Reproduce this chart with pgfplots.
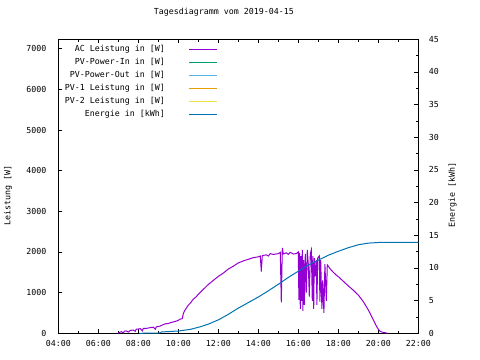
\documentclass[border=0pt]{standalone}
\usepackage{fontspec}
\setmonofont{DejaVu Sans Mono}
\usepackage{pgfplots}
\pgfplotsset{compat=1.18}
\definecolor{cPurple}{HTML}{9400D3}
\definecolor{cGreen}{HTML}{009E73}
\definecolor{cLBlue}{HTML}{56B4E9}
\definecolor{cOrange}{HTML}{E69F00}
\definecolor{cYellow}{HTML}{F0E442}
\definecolor{cBlue}{HTML}{0072B2}
\newcommand\gf{\ttfamily\fontsize{8.3bp}{10bp}\selectfont}
\pgfplotsset{
  gstyle/.style={
    at={(58.3bp,26.7bp)}, anchor=south west,
    scale only axis, width=360bp, height=294bp,
    xmin=4, xmax=22,
    tick align=inside,
    major tick length=4bp, minor tick length=2.5bp,
    tick style={black, line width=0.8bp},
    axis line style={line width=0.8bp},
    tick label style={font=\gf},
    label style={font=\gf},
    /pgf/number format/assume math mode=true,
    /pgf/number format/1000 sep={},
    scaled ticks=false,
  },
  legend image code/.code={\path (0bp,0bp) (52bp,0bp); \draw[#1] (24bp,0bp) -- (52bp,0bp);},
}
\begin{document}
\begin{tikzpicture}
\begin{axis}[gstyle,
  ymin=0, ymax=7230,
  ytick={0,1000,...,7000}, minor y tick num=0,
  ytick pos=left,
  xtick={4,6,...,22}, minor x tick num=1,
  xticklabels={04:00,06:00,08:00,10:00,12:00,14:00,16:00,18:00,20:00,22:00},
  xticklabel style={yshift=-4bp},
  yticklabel style={xshift=-8.5bp},
  ylabel={Leistung [W]},
  ylabel style={at={(axis description cs:-0.1397,0.47)}, anchor=center},
  title={Tagesdiagramm vom 2019-04-15},
  title style={at={(axis description cs:0.46,1.0725)}, anchor=center, font=\gf},
]
\addplot[cPurple, line width=1bp] table {
7.00 0
7.05 20
7.15 40
7.25 10
7.30 50
7.40 60
7.50 30
7.60 70
7.75 80
7.85 50
7.90 100
8.00 105
8.10 115
8.20 60
8.25 120
8.40 120
8.50 130
8.60 140
8.75 150
8.85 100
8.90 160
9.00 165
9.10 180
9.25 215
9.40 240
9.50 240
9.60 260
9.75 280
9.90 300
10.00 320
10.10 350
10.20 360
10.25 480
10.30 540
10.40 620
10.50 690
10.60 740
10.75 840
10.90 900
11.00 960
11.25 1080
11.50 1200
11.75 1300
12.00 1400
12.25 1480
12.50 1580
12.75 1650
13.00 1730
13.25 1780
13.50 1820
13.75 1860
14.00 1880
14.10 1900
14.15 1520
14.20 1910
14.40 1930
14.50 1900
14.60 1960
14.75 1940
14.90 1950
15.00 1960
15.10 1990
15.15 760
15.20 2100
15.25 1950
15.40 1980
15.50 1940
15.60 1990
15.75 1950
15.90 1960
16.00 2000
16.03 820
16.07 1980
16.10 600
16.13 1900
16.17 800
16.20 2050
16.23 550
16.27 1800
16.30 700
16.35 1950
16.40 1000
16.45 2050
16.50 1700
16.55 900
16.60 1950
16.65 2050
16.70 800
16.73 1900
16.77 600
16.80 1850
16.85 1400
16.90 1800
16.93 700
16.97 1850
17.05 1900
17.08 780
17.12 1800
17.18 600
17.22 1300
17.28 500
17.33 1700
17.40 800
17.45 1680
17.50 1650
17.60 1580
17.75 1500
17.90 1430
18.00 1395
18.25 1280
18.50 1165
18.75 1060
19.00 940
19.25 780
19.50 575
19.75 330
19.90 180
20.00 100
20.10 45
20.25 20
20.40 10
20.45 0
};
\end{axis}
\begin{axis}[gstyle,
  ymin=0, ymax=45,
  axis x line=none,
  axis y line*=right,
  ytick={0,5,...,45}, minor y tick num=1,
  yticklabel style={xshift=7bp},
  ylabel={Energie [kWh]},
  ylabel style={at={(axis description cs:1.095,0.47)}, anchor=center, rotate=0},
  legend style={at={(axis description cs:0.4436,0.9806)}, anchor=north east,
    draw=none, fill=none, inner sep=0pt, row sep=5bp, font=\gf,
    nodes={inner sep=0pt, text height=6bp, text depth=2bp}},
  legend cell align=right,
  legend plot pos=right,
]
\addlegendimage{cPurple, line width=1bp}
\addlegendentry{AC Leistung in [W]}
\addlegendimage{cGreen, line width=1bp}
\addlegendentry{PV-Power-In in [W]}
\addlegendimage{cLBlue, line width=1bp}
\addlegendentry{PV-Power-Out in [W]}
\addlegendimage{cOrange, line width=1bp}
\addlegendentry{PV-1 Leistung in [W]}
\addlegendimage{cYellow, line width=1bp}
\addlegendentry{PV-2 Leistung in [W]}
\addplot[cBlue, line width=1bp] table {
8.05 0
9.10 0.05
9.15 0.2
10.00 0.35
10.60 0.6
11.10 1.0
11.50 1.4
12.00 2.05
12.50 2.9
13.00 3.85
13.50 4.7
14.00 5.55
14.50 6.5
15.00 7.5
15.50 8.55
16.00 9.5
16.50 10.45
17.00 11.2
17.50 11.95
18.00 12.55
18.50 13.1
19.00 13.55
19.50 13.8
19.75 13.85
20.00 13.9
22.00 13.9
};
\addlegendentry{Energie in [kWh]}
\end{axis}
\pgfresetboundingbox
\path (0,0) rectangle (480bp,360bp);
\end{tikzpicture}
\end{document}
